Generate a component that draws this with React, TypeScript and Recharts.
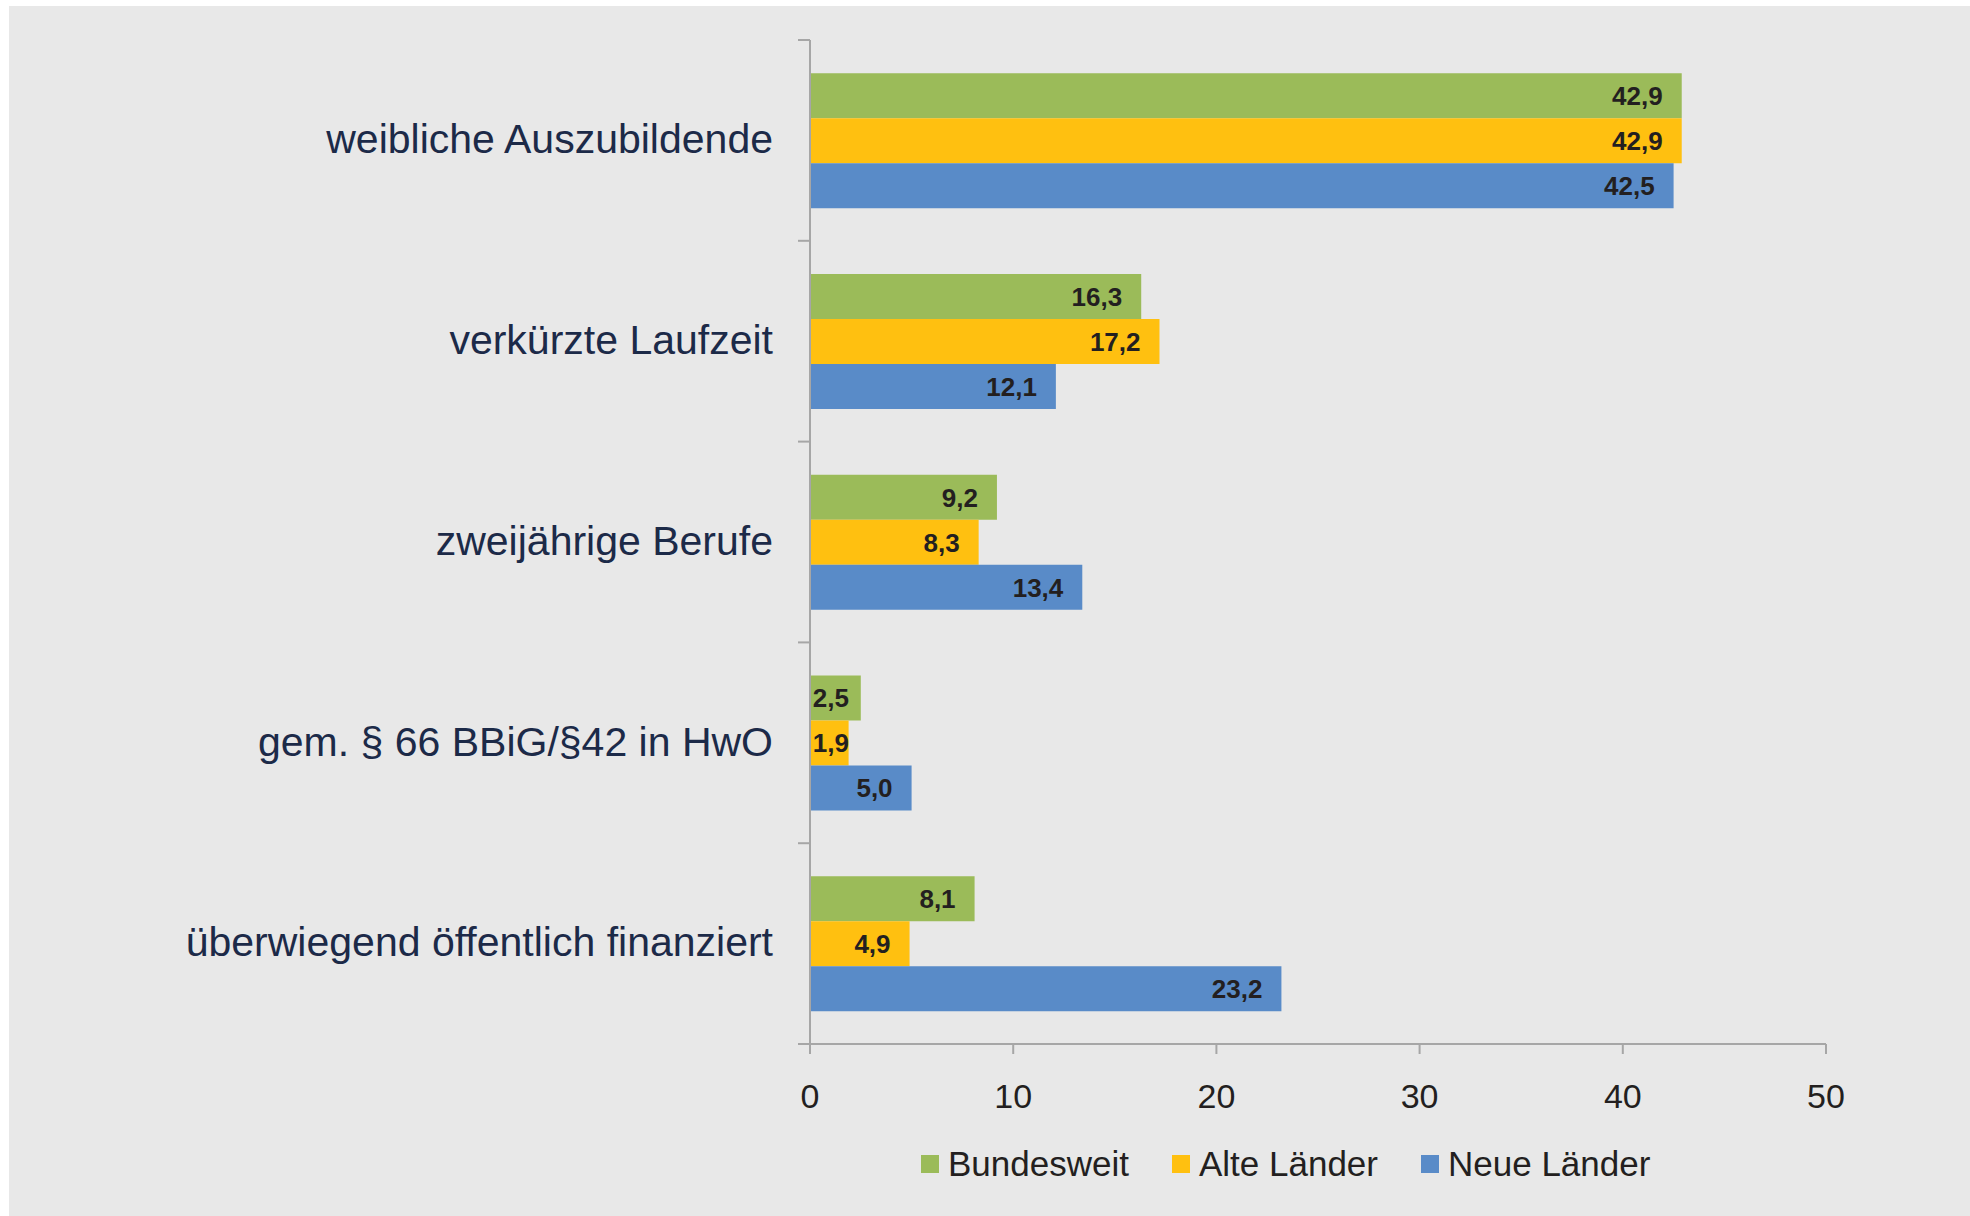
import { BarChart, Bar, XAxis, YAxis, Legend, LabelList } from "recharts";

const categories = [
  "weibliche Auszubildende",
  "verkürzte Laufzeit",
  "zweijährige Berufe",
  "gem. § 66 BBiG/§42 in HwO",
  "überwiegend öffentlich finanziert",
];
const bundesweit = [42.9, 16.3, 9.2, 2.5, 8.1];
const alteLaender = [42.9, 17.2, 8.3, 1.9, 4.9];
const neueLaender = [42.5, 12.1, 13.4, 5.0, 23.2];
const xTicks = [0, 10, 20, 30, 40, 50];

const series = [
  { key: "bund", name: "Bundesweit", color: "#9BBB59" },
  { key: "alt", name: "Alte Länder", color: "#FFC010" },
  { key: "neu", name: "Neue Länder", color: "#598BC8" },
];

const data = categories.map((name, i) => ({
  name,
  bund: bundesweit[i],
  alt: alteLaender[i],
  neu: neueLaender[i],
}));

const FONT = "'Liberation Sans', Arial, Helvetica, sans-serif";
const AXIS = "#A6A6A6";

const fmt = (v: number) => v.toFixed(1).replace(".", ",");

const CategoryTick = (props: any) => {
  const { x, y, payload, index, visibleTicksCount } = props;
  const axisX = x + 37;
  const half = payload && payload.offset ? payload.offset : 100.4;
  return (
    <g>
      <text
        x={x}
        y={y}
        dy="0.31em"
        textAnchor="end"
        fontSize={41}
        fontFamily={FONT}
        fill="#1C2A48"
      >
        {payload.value}
      </text>
      <line x1={axisX - 12} x2={axisX} y1={y - half} y2={y - half} stroke={AXIS} strokeWidth={2} />
      {index === visibleTicksCount - 1 && (
        <line x1={axisX - 12} x2={axisX} y1={y + half} y2={y + half} stroke={AXIS} strokeWidth={2} />
      )}
    </g>
  );
};

const ValueLabel = (props: any) => {
  const { x, y, width, height, value } = props;
  const txt = fmt(Number(value));
  const textW = txt.length === 3 ? 36 : 51;
  const right = Math.max(x + width - 19, x + 3 + textW);
  return (
    <text
      x={right}
      y={y + height / 2}
      dy="0.36em"
      textAnchor="end"
      fontSize={26}
      fontWeight="bold"
      fontFamily={FONT}
      fill="#231F20"
    >
      {txt}
    </text>
  );
};

const LegendContent = () => (
  <div style={{ display: "flex", alignItems: "center", height: 40, fontFamily: FONT }}>
    {series.map((s) => (
      <div key={s.key} style={{ display: "flex", alignItems: "center", marginRight: 43 }}>
        <span style={{ width: 18, height: 18, background: s.color, marginRight: 9, display: "inline-block" }} />
        <span style={{ fontSize: 35, color: "#231F20", lineHeight: "40px" }}>{s.name}</span>
      </div>
    ))}
  </div>
);

export default function App() {
  return (
    <div style={{ position: "absolute", left: 0, top: 0, width: 1970, height: 1216, background: "#FFFFFF" }}>
      <div style={{ position: "absolute", left: 9, top: 6, right: 0, bottom: 0, background: "#E8E8E8" }} />
      <div style={{ position: "absolute", left: 0, top: 0 }}>
        <BarChart
          width={1970}
          height={1216}
          data={data}
          layout="vertical"
          margin={{ top: 40, right: 144, bottom: 102, left: 0 }}
          barCategoryGap="16.5%"
          barGap={0}
        >
          <XAxis
            type="number"
            domain={[0, 50]}
            ticks={xTicks}
            interval={0}
            height={30}
            axisLine={{ stroke: AXIS, strokeWidth: 2 }}
            tickLine={{ stroke: AXIS, strokeWidth: 2 }}
            tickSize={10}
            tickMargin={30}
            tick={{ fontSize: 34, fontFamily: FONT, fill: "#231F20" }}
          />
          <YAxis
            type="category"
            dataKey="name"
            width={810}
            interval={0}
            axisLine={{ stroke: AXIS, strokeWidth: 2 }}
            tickLine={false}
            tickSize={0}
            tickMargin={37}
            tick={<CategoryTick />}
          />
          <Legend
            verticalAlign="bottom"
            content={<LegendContent />}
            wrapperStyle={{ position: "absolute", left: 921, top: 1144, width: "auto", height: 40 }}
          />
          {series.map((s) => (
            <Bar key={s.key} dataKey={s.key} name={s.name} fill={s.color} isAnimationActive={false}>
              <LabelList dataKey={s.key} content={<ValueLabel />} />
            </Bar>
          ))}
        </BarChart>
      </div>
    </div>
  );
}
